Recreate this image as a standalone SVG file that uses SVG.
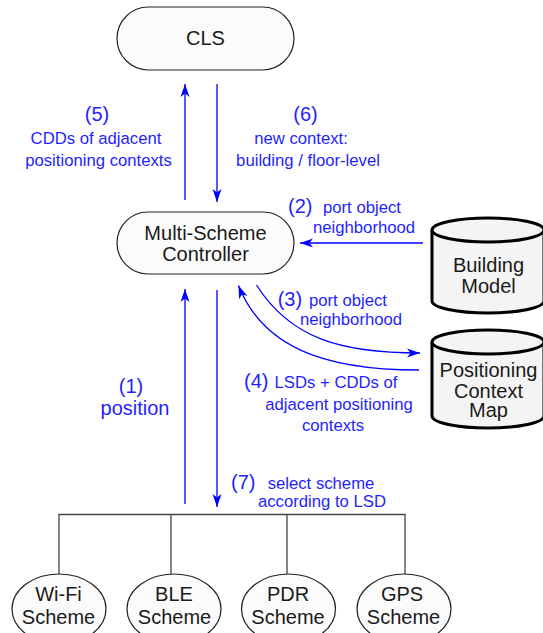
<svg xmlns="http://www.w3.org/2000/svg" width="543" height="633" viewBox="0 0 543 633">
<style>
.node{fill:#fbfbfb;stroke:#222;stroke-width:1.2}
.db{fill:#f4f4f4;stroke:#000;stroke-width:3}
.nt{font-family:"Liberation Sans",Arial,sans-serif;font-size:20px;fill:#1a1a1a;text-anchor:middle}
.lb{font-family:"Liberation Sans",Arial,sans-serif;font-size:16.7px;fill:#1f1fff}
.num{font-family:"Liberation Sans",Arial,sans-serif;font-size:20px;fill:#1f1fff}
.m{text-anchor:middle}
.arr{fill:none;stroke:#0000ff;stroke-width:1.3;marker-end:url(#ah)}
.tree{fill:none;stroke:#444;stroke-width:1.3}
</style>
<defs>
<marker id="ah" viewBox="-14 -5 15 10" markerWidth="15" markerHeight="10" refX="0" refY="0" orient="auto" markerUnits="userSpaceOnUse">
<path d="M0,0 L-13,-4.5 L-9.5,0 L-13,4.5 Z" fill="#0000ff"/>
</marker>
</defs>

<g id="connectors">
<path class="arr" d="M185,200 L185,84"/>
<path class="arr" d="M217,84 L217,202"/>
<path class="arr" d="M423,243 L300,243"/>
<path class="arr" d="M256.5,285 C290,338 340,353 420,353"/>
<path class="arr" d="M419,370 C320,370 262,345 238.5,285.5"/>
<path class="arr" d="M185,504 L185,289"/>
<path class="arr" d="M217,290 L217,507"/>
<path class="tree" d="M59,574 V514.5 H405 V574 M171,514.5 V574 M287,514.5 V574"/>
</g>

<g id="labels">
<text class="num m" x="97" y="120.5">(5)</text>
<text class="lb m" x="96" y="143.7">CDDs of adjacent</text>
<text class="lb m" x="98.5" y="165.5">positioning contexts</text>
<text class="num m" x="305.5" y="120.5">(6)</text>
<text class="lb m" x="301" y="143.7">new context:</text>
<text class="lb m" x="308" y="165.5">building / floor-level</text>
<text class="num" x="288" y="213">(2)</text>
<text class="lb" x="323" y="213">port object</text>
<text class="lb" x="313" y="233">neighborhood</text>
<text class="num" x="277.7" y="306">(3)</text>
<text class="lb" x="309" y="306">port object</text>
<text class="lb" x="300" y="325">neighborhood</text>
<text class="num" x="244" y="388">(4)</text>
<text class="lb m" x="336" y="388">LSDs + CDDs of</text>
<text class="lb m" x="339" y="410">adjacent positioning</text>
<text class="lb m" x="333" y="431">contexts</text>
<text class="num m" x="131" y="393">(1)</text>
<text class="num m" x="135" y="415.4">position</text>
<text class="num" x="231" y="489">(7)</text>
<text class="lb m" x="321" y="489">select scheme</text>
<text class="lb m" x="322" y="507">according to LSD</text>
</g>

<g id="cls">
<rect class="node" x="117" y="7" width="177" height="63" rx="31.5"/>
<text class="nt" x="205.5" y="45">CLS</text>
</g>

<g id="controller">
<rect class="node" x="117" y="212" width="177" height="62" rx="31"/>
<text class="nt" x="205.5" y="240">Multi-Scheme</text>
<text class="nt" x="205.5" y="261">Controller</text>
</g>

<g id="building-model">
<path class="db" d="M432,230 A56,12 0 0 1 544,230 V301 A56,12 0 0 1 432,301 Z"/>
<path class="db" d="M432,230 A56,12 0 0 0 544,230" fill="none"/>
<text class="nt" x="488.5" y="272">Building</text>
<text class="nt" x="488.5" y="293">Model</text>
</g>

<g id="positioning-context-map">
<path class="db" d="M432,342 A56,12 0 0 1 544,342 V416 A56,12 0 0 1 432,416 Z"/>
<path class="db" d="M432,342 A56,12 0 0 0 544,342" fill="none"/>
<text class="nt" x="488.5" y="377">Positioning</text>
<text class="nt" x="488.5" y="397.5">Context</text>
<text class="nt" x="488.5" y="417">Map</text>
</g>

<g id="wifi">
<ellipse class="node" cx="59" cy="609" rx="47" ry="35"/>
<text class="nt" x="58.5" y="600.5">Wi-Fi</text>
<text class="nt" x="58.5" y="624">Scheme</text>
</g>
<g id="ble">
<ellipse class="node" cx="174" cy="609" rx="47" ry="35"/>
<text class="nt" x="174" y="600.5">BLE</text>
<text class="nt" x="174.5" y="624">Scheme</text>
</g>
<g id="pdr">
<ellipse class="node" cx="288.5" cy="609" rx="47" ry="35"/>
<text class="nt" x="288" y="600.5">PDR</text>
<text class="nt" x="288" y="624">Scheme</text>
</g>
<g id="gps">
<ellipse class="node" cx="404" cy="609" rx="47" ry="35"/>
<text class="nt" x="402" y="600.5">GPS</text>
<text class="nt" x="403.5" y="624">Scheme</text>
</g>
</svg>
